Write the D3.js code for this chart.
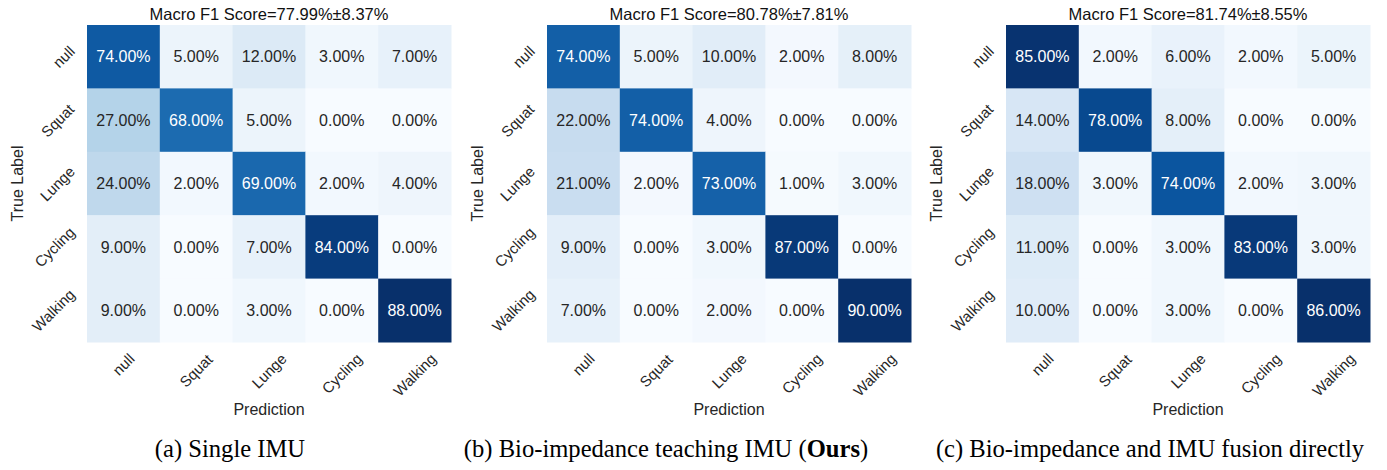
<!DOCTYPE html>
<html>
<head>
<meta charset="utf-8">
<script src="https://cdn.jsdelivr.net/npm/d3@7"></script>
<style>
  body { margin: 0; background: #fff; }
  svg text { font-family: "Liberation Sans", Arial, sans-serif; }
  .caption { font-family: "Liberation Serif", "Times New Roman", serif; }
</style>
</head>
<body>
<div id="container"></div>
<script>
// class names used on both axes
const classes = ["null", "Squat", "Lunge", "Cycling", "Walking"];

// confusion matrices (rows = true label, cols = prediction), in %
const matrixSingle = [
  [74, 5, 12, 3, 7],
  [27, 68, 5, 0, 0],
  [24, 2, 69, 2, 4],
  [9, 0, 7, 84, 0],
  [9, 0, 3, 0, 88]
];
const matrixTeaching = [
  [74, 5, 10, 2, 8],
  [22, 74, 4, 0, 0],
  [21, 2, 73, 1, 3],
  [9, 0, 3, 87, 0],
  [7, 0, 2, 0, 90]
];
const matrixFusion = [
  [85, 2, 6, 2, 5],
  [14, 78, 8, 0, 0],
  [18, 3, 74, 2, 3],
  [11, 0, 3, 83, 3],
  [10, 0, 3, 0, 86]
];

const titles = [
  "Macro F1 Score=77.99%±8.37%",
  "Macro F1 Score=80.78%±7.81%",
  "Macro F1 Score=81.74%±8.55%"
];

const captions = [
  [{ t: "(a) Single IMU" }],
  [{ t: "(b) Bio-impedance teaching IMU (" }, { t: "Ours", bold: true }, { t: ")" }],
  [{ t: "(c) Bio-impedance and IMU fusion directly" }]
];

const matrices = [matrixSingle, matrixTeaching, matrixFusion];

// matplotlib "Blues" anchor colours
const bluesStops = ["#f7fbff", "#deebf7", "#c6dbef", "#9ecae1", "#6baed6",
                    "#4292c6", "#2171b5", "#08519c", "#08306b"];

const width = 1387, height = 470;
const gridLeft = [87, 547, 1006];
const captionX = [230, 666, 1150];
const gridW = 364, gridTop = 25, gridH = 317;
const ink = "#262626";

const svg = d3.select("#container")
  .append("svg")
  .attr("width", width)
  .attr("height", height);

// seaborn picks text colour from the cell luminance
function luminance(c) {
  const rgb = d3.rgb(c);
  const ch = [rgb.r, rgb.g, rgb.b].map(function(v) {
    v = v / 255;
    return v <= 0.03928 ? v / 12.92 : Math.pow((v + 0.055) / 1.055, 2.4);
  });
  return 0.2126 * ch[0] + 0.7152 * ch[1] + 0.0722 * ch[2];
}

matrices.forEach(function(matrix, p) {
  const left = gridLeft[p];
  const vmax = d3.max(matrix.flat());
  const vmin = d3.min(matrix.flat());

  const color = d3.scaleLinear()
    .domain(bluesStops.map(function(_, i) { return vmin + (vmax - vmin) * i / (bluesStops.length - 1); }))
    .range(bluesStops)
    .interpolate(d3.interpolateRgb);

  const x = d3.scaleBand().domain(classes).range([left, left + gridW]);
  const y = d3.scaleBand().domain(classes).range([gridTop, gridTop + gridH]);

  const g = svg.append("g");

  const cells = [];
  matrix.forEach(function(row, i) {
    row.forEach(function(v, j) {
      cells.push({ truth: classes[i], pred: classes[j], value: v });
    });
  });

  g.selectAll("rect")
    .data(cells)
    .enter()
    .append("rect")
    .attr("x", function(d) { return x(d.pred); })
    .attr("y", function(d) { return y(d.truth); })
    .attr("width", x.bandwidth() + 0.5)
    .attr("height", y.bandwidth() + 0.5)
    .attr("fill", function(d) { return color(d.value); });

  g.selectAll("text.cell")
    .data(cells)
    .enter()
    .append("text")
    .attr("class", "cell")
    .attr("x", function(d) { return x(d.pred) + x.bandwidth() / 2; })
    .attr("y", function(d) { return y(d.truth) + y.bandwidth() / 2; })
    .attr("dy", "0.36em")
    .attr("text-anchor", "middle")
    .style("font-size", "16px")
    .attr("fill", function(d) { return luminance(color(d.value)) > 0.408 ? ink : "#ffffff"; })
    .text(function(d) { return d.value.toFixed(2) + "%"; });

  // title
  g.append("text")
    .attr("x", left + gridW / 2)
    .attr("y", 20)
    .attr("text-anchor", "middle")
    .style("font-size", "16.5px")
    .attr("fill", "#111")
    .text(titles[p]);

  // y tick labels, rotated 45deg, right-aligned and centred on the row
  classes.forEach(function(c) {
    const tg = g.append("g");
    tg.append("text")
      .attr("text-anchor", "end")
      .attr("dy", "0.35em")
      .attr("transform", "rotate(-45)")
      .style("font-size", "15px")
      .attr("fill", ink)
      .text(c);
    const bb = tg.node().getBBox();
    const tx = left - 9 - (bb.x + bb.width);
    const ty = y(c) + y.bandwidth() / 2 - (bb.y + bb.height / 2);
    tg.attr("transform", "translate(" + tx + "," + ty + ")");
  });

  // x tick labels, rotated 45deg, centred under the column
  classes.forEach(function(c) {
    const tg = g.append("g");
    tg.append("text")
      .attr("text-anchor", "middle")
      .attr("dy", "0.35em")
      .attr("transform", "rotate(-45)")
      .style("font-size", "15px")
      .attr("fill", ink)
      .text(c);
    const bb = tg.node().getBBox();
    const tx = x(c) + x.bandwidth() / 2 - (bb.x + bb.width / 2);
    const ty = gridTop + gridH + 8 - bb.y;
    tg.attr("transform", "translate(" + tx + "," + ty + ")");
  });

  // axis labels
  g.append("text")
    .attr("x", left + gridW / 2)
    .attr("y", 415)
    .attr("text-anchor", "middle")
    .style("font-size", "16px")
    .attr("fill", ink)
    .text("Prediction");

  g.append("text")
    .attr("transform", "translate(" + (left - 64) + "," + (gridTop + gridH / 2) + ") rotate(-90)")
    .attr("text-anchor", "middle")
    .style("font-size", "16px")
    .attr("fill", ink)
    .text("True Label");

  // sub-figure caption
  const cap = g.append("text")
    .attr("class", "caption")
    .attr("x", captionX[p])
    .attr("y", 457)
    .attr("text-anchor", "middle")
    .style("font-size", "24.6px")
    .attr("fill", "#000");
  cap.selectAll("tspan")
    .data(captions[p])
    .enter()
    .append("tspan")
    .style("font-weight", function(d) { return d.bold ? "bold" : "normal"; })
    .text(function(d) { return d.t; });
});
</script>
</body>
</html>
